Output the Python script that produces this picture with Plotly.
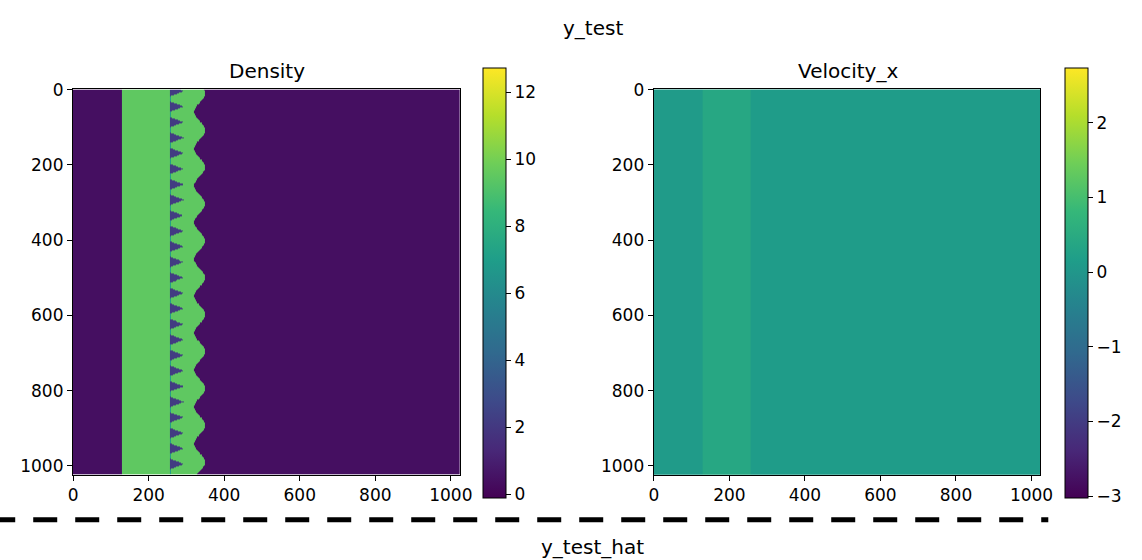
import numpy as np
import plotly.graph_objects as go

W, H = 1142, 560
N = 1024

# ---- density field parameters ----
density_levels = {"ambient": 0.4, "shell": 9.5, "pocket": 2.2, "seam": 7.0}
shell_left, shell_inner = 128, 256          # slab edges along x
pocket_centers = [4 + 41.3 * k for k in range(25)]  # y centres of the notches
pocket_half_width, pocket_depth = 14, 37
front_mean, front_amp = 335.0, 14.0         # wavy right front
front_period, front_phase = 98, 10
density_range = [-0.1, 12.74]
density_ticks = [0, 2, 4, 6, 8, 10, 12]

# ---- velocity field parameters ----
vel_edges = [-0.5, 128, 256, N - 0.5]
vel_values = [0.12, 0.4, 0.14]
velocity_range = [-3.02, 2.74]
velocity_ticks = [-3, -2, -1, 0, 1, 2]

axis_ticks = [0, 200, 400, 600, 800, 1000]

# density grid: coarse columns outside the front region, fine columns inside
fine_x = np.arange(shell_inner, 372, 1.0)
x_edges = np.concatenate([[-0.5, shell_left], fine_x, [N - 0.5]])
x_cent = 0.5 * (x_edges[:-1] + x_edges[1:])
y_edges = np.arange(-0.5, N, 1.0)
y_cent = 0.5 * (y_edges[:-1] + y_edges[1:])
X, Y = np.meshgrid(x_cent, y_cent)

rho = np.full(X.shape, density_levels["ambient"], dtype=np.float32)
front = front_mean + front_amp * np.cos(2 * np.pi * (Y - front_phase) / front_period)
rho[(X >= shell_left) & (X < front)] = density_levels["shell"]
rho[(X >= shell_inner) & (X < shell_inner + 2)] = density_levels["seam"]
for yc in pocket_centers:
    tip = shell_inner + pocket_depth * (1 - np.abs(Y - yc) / pocket_half_width)
    rho[(X >= shell_inner) & (X < tip) & (np.abs(Y - yc) < pocket_half_width)] = density_levels["pocket"]

vel = np.tile(np.array(vel_values, dtype=np.float32), (2, 1))
vel_y = [-0.5, N - 0.5]

FONT = "DejaVu Sans"
TICK_SIZE = 17
px = lambda x: x / W
py = lambda y: 1 - y / H

fig = go.Figure()

def cbar(x_left, ticks):
    return dict(
        x=px(x_left), xanchor="left", xpad=0,
        y=py(278), yanchor="middle", ypad=0,
        len=430, lenmode="pixels", thickness=23, thicknessmode="pixels",
        outlinewidth=1, outlinecolor="black",
        tickvals=ticks, ticks="outside", ticklen=5, tickcolor="black",
        tickfont=dict(family=FONT, size=TICK_SIZE, color="black"),
    )

fig.add_trace(go.Heatmap(
    z=rho, x=x_edges, y=y_edges, colorscale="Viridis",
    zmin=density_range[0], zmax=density_range[1], zsmooth=False,
    colorbar=cbar(486, density_ticks), xaxis="x", yaxis="y",
))
fig.add_trace(go.Heatmap(
    z=vel, x=vel_edges, y=vel_y, colorscale="Viridis",
    zmin=velocity_range[0], zmax=velocity_range[1], zsmooth=False,
    colorbar=cbar(1077, velocity_ticks), xaxis="x2", yaxis="y2",
))

def ax(domain, rng, anchor):
    return dict(
        domain=domain, range=rng, anchor=anchor,
        tickvals=axis_ticks, ticks="outside", ticklen=5, tickcolor="black",
        showline=True, mirror=True, linecolor="black", linewidth=1,
        showgrid=False, zeroline=False,
        tickfont=dict(family=FONT, size=TICK_SIZE, color="black"),
    )

ydom = [py(474), py(81)]
fig.update_layout(
    width=W, height=H, margin=dict(l=0, r=0, t=0, b=0),
    paper_bgcolor="white", plot_bgcolor="white", showlegend=False,
    xaxis=ax([px(69), px(462)], [-0.5, N - 0.5], "y"),
    yaxis=ax(ydom, [N - 0.5, -0.5], "x"),
    xaxis2=ax([px(659), px(1052)], [-0.5, N - 0.5], "y2"),
    yaxis2=ax(ydom, [N - 0.5, -0.5], "x2"),
)

def label(text, x, y):
    fig.add_annotation(text=text, x=px(x), y=py(y), xref="paper", yref="paper",
                       xanchor="center", yanchor="middle", showarrow=False,
                       font=dict(family=FONT, size=20, color="black"))

label("y_test", 597, 18)
label("Density", 266, 62)
label("Velocity_x", 856, 62)
label("y_test_hat", 597, 548)

# dashed separator between the two rows of panels
fig.add_shape(type="line", xref="paper", yref="paper",
              x0=px(-14), x1=px(1060), y0=py(520), y1=py(520),
              line=dict(color="black", width=5, dash="24px,18px"))

fig.write_html("out.html")
